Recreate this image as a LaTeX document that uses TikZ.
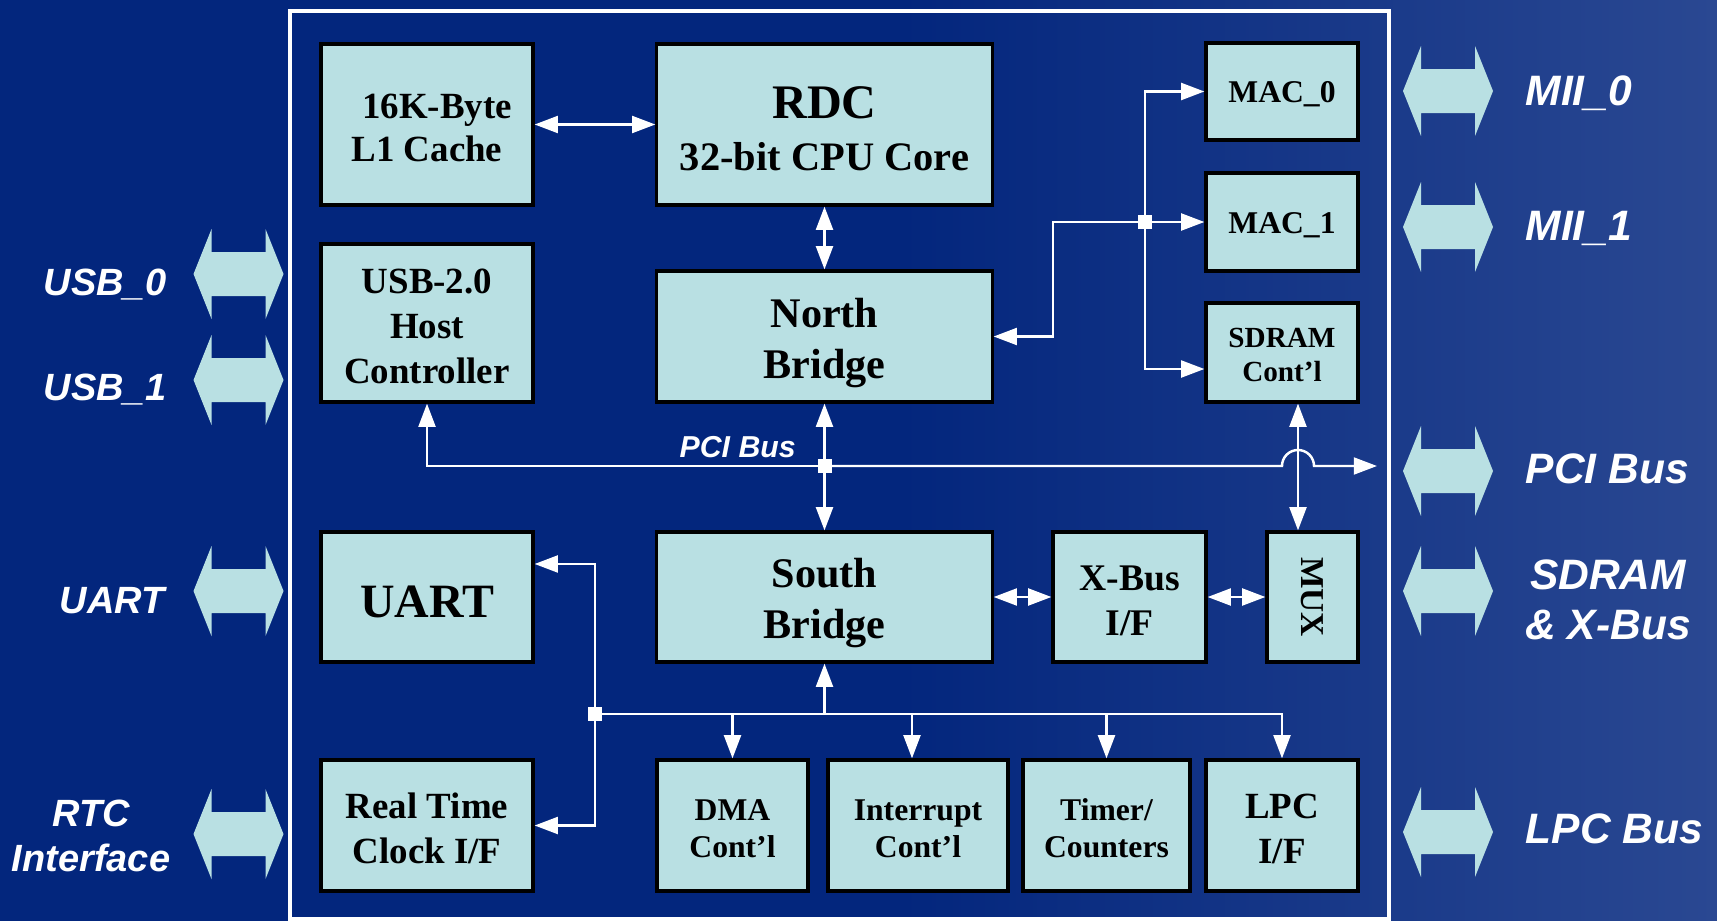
\documentclass[tikz,border=0pt]{standalone}
\usepackage{fontspec}
\setmainfont{Liberation Serif}
\setsansfont{Liberation Sans}
\usetikzlibrary{arrows.meta}

\definecolor{bgblue}{RGB}{3,38,125}
\definecolor{bglight}{RGB}{42,72,146}
\definecolor{boxfill}{RGB}{185,224,227}

\newcommand{\fs}[2]{\fontsize{#1}{#2}\selectfont}
% taller first line, pushes the text a bit down in its box
\newcommand{\lo}[1][0.85em]{\rule{0pt}{#1}}

\tikzset{
  blk/.style={draw=black, line width=0.9pt, fill=boxfill, inner sep=0pt, align=center},
  lnk/.style={draw=white, line width=0.7pt},
  arr/.style={lnk, -{Triangle[length=6.6pt,width=4.8pt]}},
  dbl/.style={lnk, {Triangle[length=6.6pt,width=4.8pt]}-{Triangle[length=6.6pt,width=4.8pt]}},
  jsq/.style={fill=white, minimum size=0.14cm, inner sep=0pt},
  side/.style={text=white, align=center, inner sep=0pt, font=\sffamily\bfseries\itshape\fs{10.8}{14}},
  rside/.style={side, font=\sffamily\bfseries\itshape\fs{12.1}{14.3}},
  bigarrow/.pic={
    \fill[boxfill] (-45,0) -- (-27,-45) -- (-27,-22) -- (27,-22) -- (27,-45)
      -- (45,0) -- (27,45) -- (27,22) -- (-27,22) -- (-27,45) -- cycle;
  }
}

\begin{document}
\begin{tikzpicture}[x=0.01cm, y=-0.01cm]

        \useasboundingbox (0,0) rectangle (1717,921);
        \fill[bgblue] (0,0) rectangle (1717,921);
        \shade[left color=bgblue, right color=bglight] (900,0) rectangle (1717,921);
        \draw[white, line width=1.1pt] (290,11) rectangle (1389,919);

        % chip blocks
        \begin{scope}[every node/.style={blk}]
          \node[minimum width=2.12cm, minimum height=1.61cm, font=\bfseries\fs{10.5}{12.4}] (l1) at (427,124.5) {\lo\hspace*{0.55em}16K-Byte\\L1 Cache};
          \node[minimum width=3.35cm, minimum height=1.61cm, font=\bfseries\fs{11.5}{14.8}] (cpu) at (824.5,124.5) {{\fs{13.7}{14.8}\lo RDC}\\32-bit CPU Core};
          \node[minimum width=1.52cm, minimum height=0.97cm, font=\bfseries\fs{9}{11}] (mac0) at (1282,91.5) {\lo MAC\_0};
          \node[minimum width=1.52cm, minimum height=0.98cm, font=\bfseries\fs{9}{11}] (mac1) at (1282,222) {\lo MAC\_1};
          \node[minimum width=1.52cm, minimum height=0.99cm, font=\bfseries\fs{8.3}{9.6}] (sdram) at (1282,352.5) {\lo SDRAM\\Cont’l};
          \node[minimum width=2.12cm, minimum height=1.58cm, font=\bfseries\fs{10.5}{12.7}] (usb) at (427,323) {\lo USB-2.0\\Host\\Controller};
          \node[minimum width=3.35cm, minimum height=1.31cm, font=\bfseries\fs{12}{14.5}] (nb) at (824.5,336.5) {\lo[1em]North\\Bridge};
          \node[minimum width=2.12cm, minimum height=1.30cm, font=\bfseries\fs{13.6}{15}] (uart) at (427,597) {\lo UART};
          \node[minimum width=3.35cm, minimum height=1.30cm, font=\bfseries\fs{12}{14.5}] (sb) at (824.5,597) {\lo[1em]South\\Bridge};
          \node[minimum width=1.53cm, minimum height=1.30cm, font=\bfseries\fs{10.7}{12.8}] (xbus) at (1129.5,597) {\lo X-Bus\\I/F};
          \node[minimum width=0.91cm, minimum height=1.30cm, font=\bfseries\fs{9.5}{11}] (mux) at (1312.5,597) {\rotatebox{-90}{MUX}};
          \node[minimum width=2.12cm, minimum height=1.31cm, font=\bfseries\fs{10.5}{12.8}] (rtc) at (427,825.5) {\lo Real Time\\Clock I/F};
          \node[minimum width=1.51cm, minimum height=1.31cm, font=\bfseries\fs{9}{10.4}] (dma) at (732.5,825.5) {\lo DMA\\Cont’l};
          \node[minimum width=1.80cm, minimum height=1.31cm, font=\bfseries\fs{9}{10.4}] (intc) at (918,825.5) {\lo Interrupt\\Cont’l};
          \node[minimum width=1.67cm, minimum height=1.31cm, font=\bfseries\fs{9}{10.4}] (timer) at (1106.5,825.5) {\lo Timer/\\Counters};
          \node[minimum width=1.52cm, minimum height=1.31cm, font=\bfseries\fs{10.5}{12.8}] (lpc) at (1282,825.5) {\lo LPC\\I/F};
        \end{scope}

        % bus points
        \coordinate (pci) at (824.5,466);
        \coordinate (hop) at (1298,466);
        \coordinate (pciend) at (1377,466);
        \coordinate (jn1) at (1145,222);
        \coordinate (jn2) at (595,714);
        \coordinate (intin) at ([xshift=-0.06cm]intc.north);

        \node[text=white, anchor=base west, inner sep=0pt, font=\sffamily\bfseries\itshape\fs{8.6}{10}] (pcilbl) at (679,457) {PCI Bus};

        % links
        \draw[dbl] (l1) -- (cpu);
        \draw[dbl] (cpu) -- (nb);
        \draw[arr] (jn1) -- ++(-92,0) |- (nb.east);
        \draw[arr] (jn1) |- (mac0.west);
        \draw[arr] (jn1) -- (mac1.west);
        \draw[arr] (jn1) |- ([yshift=-0.165cm]sdram.west);
        \draw[arr] (pci) -| (usb.south);
        \draw[arr] (pci) -- (nb.south);
        \draw[arr] (pci) -- (sb.north);
        \draw[arr] (pci) -- ([xshift=-0.16cm]hop) arc (180:0:0.16cm) -- (pciend);
        \draw[dbl] (hop |- sdram.south) -- (hop |- mux.north);
        \draw[dbl] (sb) -- (xbus);
        \draw[dbl] (xbus) -- (mux);
        \draw[arr] (jn2) -| (lpc.north);
        \draw[arr] (jn2 -| sb.south) -- (sb.south);
        \draw[arr] (jn2 -| dma.north) -- (dma.north);
        \draw[arr] (jn2 -| intin) -- (intin);
        \draw[arr] (jn2 -| timer.north) -- (timer.north);
        \draw[arr] (jn2) |- ([yshift=0.33cm]uart.east);
        \draw[arr] (jn2) |- (rtc.east);
        \foreach \c in {pci,jn1,jn2}
          \node[jsq] at (\c) {};

        % external ports
        \foreach \y in {274,380,591,834}
          \pic at (238.5,\y) {bigarrow};
        \foreach \y in {91,227,471,591,832}
          \pic at (1448,\y) {bigarrow};

        \begin{scope}[every node/.style={side}]
          \node[anchor=base] (usb0) at (105,295) {USB\_0};
          \node[anchor=base] (usb1) at (105,400) {USB\_1};
          \node[anchor=base] (uartp) at (112,613) {UART};
          \node[font=\sffamily\bfseries\itshape\fs{10.8}{12.8}] (rtcp) at (91,836) {RTC\\Interface};
        \end{scope}
        \begin{scope}[every node/.style={rside}]
          \node[anchor=base west] (mii0) at (1525,106) {MII\_0};
          \node[anchor=base west] (mii1) at (1525,240) {MII\_1};
          \node[anchor=base west] (pcip) at (1525,483) {PCI Bus};
          \node (xbusp) at (1608,600) {SDRAM\\\& X-Bus};
          \node[anchor=base west] (lpcp) at (1525,843) {LPC Bus};
        \end{scope}

      \end{tikzpicture}
\end{document}
